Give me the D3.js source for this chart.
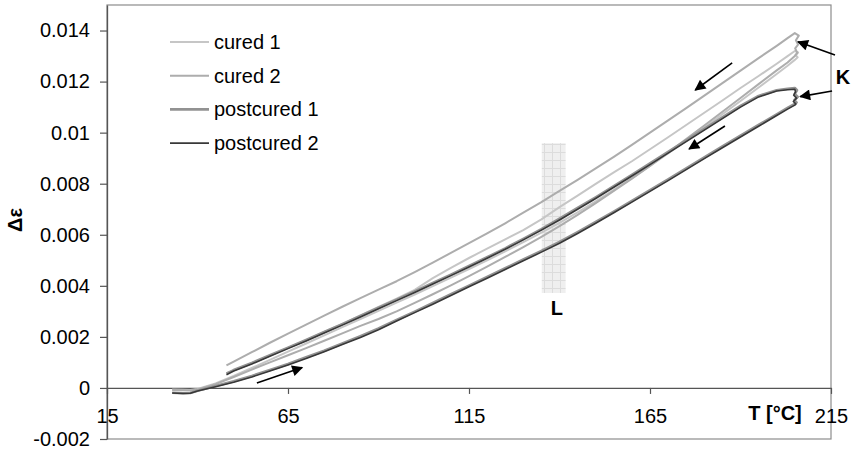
<!DOCTYPE html>
<html><head><meta charset="utf-8">
<script src="https://cdn.jsdelivr.net/npm/d3@7"></script>
<style>
body{margin:0;background:#fff}
svg{display:block}
text{font-family:"Liberation Sans",Arial,sans-serif}
</style>
</head><body>
<svg id="c" width="859" height="451"></svg>
<script>
// ---------- data ----------
const seriesNames  = ["cured 1","cured 2","postcured 1","postcured 2"];
const seriesColors = ["#c6c6c6","#adadad","#929292","#383838"];
const seriesWidths = [2, 2, 2.6, 1.6];

const xTicks = [15,65,115,165,215];
const xTickLabels = ["15","65","115","165","215"];
const yTicks = [-0.002,0,0.002,0.004,0.006,0.008,0.01,0.012,0.014];
const yTickLabels = ["-0.002","0","0.002","0.004","0.006","0.008","0.01","0.012","0.014"];

// heating branch temperatures (°C)
const heatT = [33,36,38,40,45,50,55,60,65,70,75,80,85,90,95,100,105,110,115,120,125,130,135,140,145,150,155,160,165,170,175,180,185,190,195,200,203,205];
// cooling branch temperatures (°C)
const coolT = [205,203,200,195,190,185,180,175,170,165,160,155,150,145,140,135,130,125,120,115,110,105,100,95,90,85,80,75,70,65,60,55,50,48];

const cured1Heat = [-0.00006,-0.00007,-0.00008,-0.00004,0.00018,0.00047,0.00078,0.00110,0.00142,0.00174,0.00206,0.00238,0.00270,0.00302,0.00334,0.00366,0.00399,0.00432,0.00466,0.00500,0.00535,0.00571,0.00608,0.00647,0.00688,0.00731,0.00776,0.00822,0.00870,0.00919,0.00969,0.01020,0.01072,0.01124,0.01177,0.01230,0.01262,0.01285];
const cured2Heat = [-0.00008,-0.00009,-0.00010,-0.00006,0.00015,0.00043,0.00072,0.00100,0.00128,0.00156,0.00185,0.00214,0.00243,0.00270,0.00300,0.00333,0.00367,0.00402,0.00438,0.00475,0.00513,0.00552,0.00592,0.00634,0.00678,0.00724,0.00772,0.00820,0.00870,0.00922,0.00975,0.01028,0.01082,0.01136,0.01190,0.01244,0.01275,0.01300];
const post1Heat  = [-0.00019,-0.00021,-0.00020,-0.00011,0.00008,0.00026,0.00047,0.00070,0.00094,0.00120,0.00146,0.00174,0.00203,0.00233,0.00266,0.00299,0.00333,0.00367,0.00401,0.00435,0.00469,0.00503,0.00537,0.00572,0.00610,0.00650,0.00691,0.00733,0.00775,0.00817,0.00860,0.00903,0.00946,0.00988,0.01030,0.01072,0.01097,0.01113];
const post2Heat  = [-0.00020,-0.00022,-0.00021,-0.00012,0.00005,0.00022,0.00043,0.00066,0.00090,0.00115,0.00142,0.00170,0.00198,0.00228,0.00262,0.00295,0.00328,0.00362,0.00396,0.00430,0.00464,0.00498,0.00532,0.00567,0.00605,0.00645,0.00686,0.00728,0.00770,0.00812,0.00855,0.00898,0.00941,0.00983,0.01025,0.01067,0.01092,0.01108];

const cured1Cool = [0.01320,0.01300,0.01270,0.01222,0.01175,0.01126,0.01078,0.01030,0.00982,0.00935,0.00888,0.00844,0.00799,0.00753,0.00708,0.00660,0.00618,0.00582,0.00546,0.00509,0.00470,0.00430,0.00384,0.00350,0.00317,0.00284,0.00251,0.00219,0.00187,0.00157,0.00127,0.00097,0.00069,0.00058];
const cured2Cool = [0.01390,0.01370,0.01340,0.01292,0.01243,0.01194,0.01145,0.01096,0.01048,0.01000,0.00952,0.00905,0.00860,0.00815,0.00772,0.00728,0.00687,0.00645,0.00605,0.00567,0.00529,0.00491,0.00454,0.00418,0.00385,0.00352,0.00318,0.00283,0.00248,0.00213,0.00177,0.00140,0.00103,0.00088];
const post1Cool  = [0.01175,0.01172,0.01166,0.01144,0.01105,0.01060,0.01015,0.00970,0.00925,0.00880,0.00835,0.00791,0.00747,0.00705,0.00663,0.00622,0.00584,0.00547,0.00512,0.00478,0.00444,0.00411,0.00378,0.00346,0.00314,0.00282,0.00250,0.00219,0.00188,0.00158,0.00128,0.00098,0.00070,0.00056];
const post2Cool  = [0.01170,0.01168,0.01163,0.01140,0.01100,0.01055,0.01010,0.00965,0.00920,0.00875,0.00830,0.00786,0.00742,0.00700,0.00658,0.00618,0.00580,0.00543,0.00508,0.00474,0.00440,0.00407,0.00374,0.00342,0.00310,0.00278,0.00246,0.00215,0.00184,0.00154,0.00124,0.00094,0.00066,0.00052];

// small jagged turn at the maximum temperature
const cured1JogT = [205.8,205.2,205.9];        const cured1JogV = [0.01295,0.01305,0.01314];
const cured2JogT = [205.7,205.1,205.9,205.3,206.1]; const cured2JogV = [0.01312,0.01330,0.01345,0.01362,0.01380];
const post1JogT  = [205.5,204.9,205.8,205.0,205.6]; const post1JogV  = [0.01118,0.01128,0.01140,0.01152,0.01166];
const post2JogT  = [205.3,204.6,205.5,204.7,205.2]; const post2JogV  = [0.01112,0.01122,0.01135,0.01147,0.01160];

const heatVals = [cured1Heat, cured2Heat, post1Heat, post2Heat];
const coolVals = [cured1Cool, cured2Cool, post1Cool, post2Cool];
const jogT = [cured1JogT, cured2JogT, post1JogT, post2JogT];
const jogV = [cured1JogV, cured2JogV, post1JogV, post2JogV];

// annotations (data coordinates)
const arrowFromT = [216.1, 215.3, 187.7, 185.7, 56.4];
const arrowFromV = [0.01304, 0.01163, 0.01273, 0.01026, 0.00019];
const arrowToT   = [205.9, 206.5, 177.5, 175.8, 68.9];
const arrowToV   = [0.01356, 0.01141, 0.01167, 0.00936, 0.00080];
const bandT = [135.1, 141.7];
const bandV = [0.00372, 0.00959];
const labelK = {t: 218.3, v: 0.01218, text: "K"};
const labelL = {t: 139.3, v: 0.00312, text: "L"};

// ---------- chart ----------
const svg = d3.select("#c");
const x = d3.scaleLinear().domain([15,215]).range([107,831]);
const y = d3.scaleLinear().domain([-0.002,0.015]).range([439,5]);
const FS = 20;

const defs = svg.append("defs");
const pat = defs.append("pattern").attr("id","grid").attr("patternUnits","userSpaceOnUse")
  .attr("width",8).attr("height",8);
pat.append("rect").attr("width",8).attr("height",8).attr("fill","#efefef");
pat.append("path").attr("d","M0 0.5H8M0.5 0V8").attr("stroke","#dcdcdc").attr("stroke-width",1);
const mk = defs.append("marker").attr("id","ah").attr("viewBox","0 0 10 10")
  .attr("refX",9).attr("refY",5).attr("markerWidth",13).attr("markerHeight",11)
  .attr("markerUnits","userSpaceOnUse").attr("orient","auto");
mk.append("path").attr("d","M0,0L10,5L0,10z").attr("fill","#000");

// plot border
svg.append("rect").attr("x",x(15)).attr("y",y(0.015)).attr("width",x(215)-x(15)).attr("height",y(-0.002)-y(0.015))
  .attr("fill","none").attr("stroke","#8c8c8c").attr("stroke-width",1.2);

// L band
svg.append("rect").attr("x",x(bandT[0])).attr("y",y(bandV[1]))
  .attr("width",x(bandT[1])-x(bandT[0])).attr("height",y(bandV[0])-y(bandV[1]))
  .attr("fill","url(#grid)");

// axes
const yAx = svg.append("g").attr("transform",`translate(${x(15)},0)`)
  .call(d3.axisLeft(y).tickValues(yTicks).tickSize(7).tickSizeOuter(0).tickPadding(10)
    .tickFormat((d,i)=>yTickLabels[i]));
const xAx = svg.append("g").attr("transform",`translate(0,${y(0)})`)
  .call(d3.axisBottom(x).tickValues(xTicks).tickSize(6).tickSizeOuter(0)
    .tickFormat((d,i)=>xTickLabels[i]));
[yAx,xAx].forEach(g=>{
  g.selectAll("path.domain").attr("stroke","#555").attr("stroke-width",1.3);
  g.selectAll(".tick line").attr("stroke","#555").attr("stroke-width",1.2);
  g.selectAll("text").attr("font-size",FS).attr("fill","#000")
    .attr("font-family",'"Liberation Sans",Arial,sans-serif');
});
xAx.selectAll("text").attr("y",21);

// series
const line = d3.line().x(d=>x(d[0])).y(d=>y(d[1]));
[0,1,2,3].forEach(i=>{
  const pts = heatT.map((t,k)=>[t,heatVals[i][k]])
    .concat(jogT[i].map((t,k)=>[t,jogV[i][k]]))
    .concat(coolT.map((t,k)=>[t,coolVals[i][k]]));
  svg.append("path").datum(pts).attr("d",line)
    .attr("fill","none").attr("stroke",seriesColors[i]).attr("stroke-width",seriesWidths[i])
    .attr("stroke-linejoin","round");
});

// arrows
arrowFromT.forEach((t,i)=>{
  svg.append("line").attr("x1",x(t)).attr("y1",y(arrowFromV[i]))
    .attr("x2",x(arrowToT[i])).attr("y2",y(arrowToV[i]))
    .attr("stroke","#000").attr("stroke-width",1.6).attr("marker-end","url(#ah)");
});

// K / L labels
[labelK,labelL].forEach(l=>{
  svg.append("text").attr("x",x(l.t)).attr("y",y(l.v)).attr("dy","0.35em")
    .attr("text-anchor","middle").attr("font-size",FS).attr("font-weight","bold").text(l.text);
});

// axis titles
svg.append("text").attr("transform",`translate(22,220) rotate(-90)`)
  .attr("text-anchor","middle").attr("font-size",FS).attr("font-weight","bold").text("Δε");
svg.append("text").attr("x",775).attr("y",420).attr("text-anchor","middle")
  .attr("font-size",FS).attr("font-weight","bold").text("T [°C]");

// legend
const lg = svg.append("g");
seriesNames.forEach((n,i)=>{
  const yy = 42 + i*33.7;
  lg.append("line").attr("x1",170).attr("x2",209).attr("y1",yy).attr("y2",yy)
    .attr("stroke",seriesColors[i]).attr("stroke-width",seriesWidths[i]);
  lg.append("text").attr("x",214).attr("y",yy).attr("dy","0.35em").attr("font-size",FS).text(n);
});
</script>
</body></html>
